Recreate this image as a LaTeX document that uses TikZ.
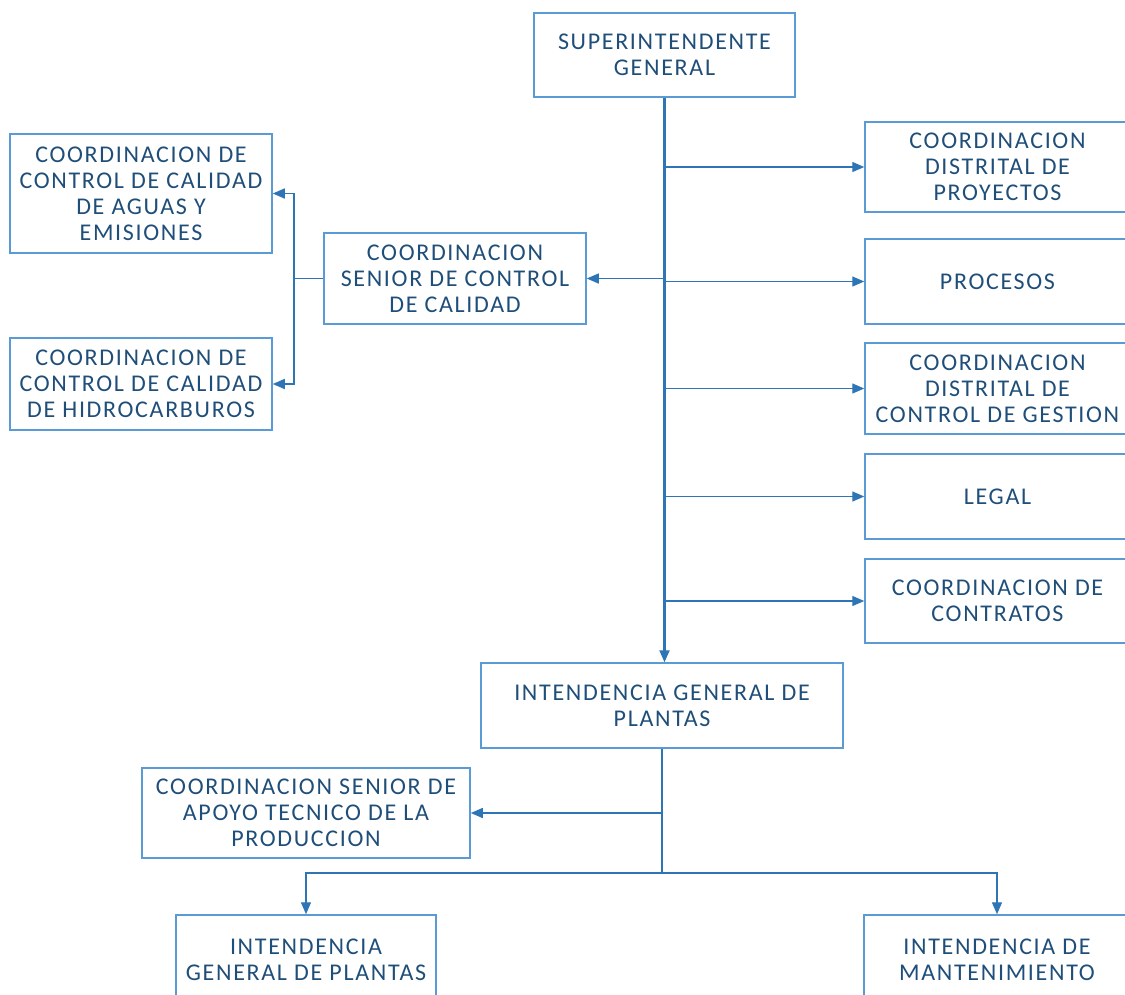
\documentclass[tikz,border=0pt]{standalone}
\usepackage{fontspec}
\setmainfont{Carlito}[LetterSpace=7]
\usetikzlibrary{arrows.meta}
\definecolor{boxc}{RGB}{91,155,213}
\definecolor{linec}{RGB}{46,117,182}
\definecolor{txtc}{RGB}{31,78,121}
\tikzset{
  box/.style={draw=boxc, line width=1.5pt, rectangle, align=center, text=txtc,
    font=\fontsize{24}{26}\selectfont, inner sep=0pt},
  conn/.style={draw=linec, line width=1.4pt},
  arr/.style={conn, -{Triangle[length=12pt,width=10pt]}}
}
\begin{document}
\begin{tikzpicture}[x=1pt,y=-1pt]
\useasboundingbox (0,0) rectangle (1125,994);
\node[box, minimum width=261, minimum height=84] (super) at (664.5,55) {SUPERINTENDENTE\\GENERAL};
\node[box, minimum width=262, minimum height=119] (aguas) at (141,193.5) {COORDINACION DE\\CONTROL DE CALIDAD\\DE AGUAS Y\\EMISIONES};
\node[box, minimum width=262, minimum height=92] (hidro) at (141,384) {COORDINACION DE\\CONTROL DE CALIDAD\\DE HIDROCARBUROS};
\node[box, minimum width=262, minimum height=91] (seniorcal) at (455,278.5) {COORDINACION\\SENIOR DE CONTROL\\DE CALIDAD};
\node[box, minimum width=265, minimum height=90] (proy) at (997.5,167) {COORDINACION\\DISTRITAL DE\\PROYECTOS};
\node[box, minimum width=265, minimum height=85] (proc) at (997.5,281.5) {PROCESOS};
\node[box, minimum width=265, minimum height=91] (gest) at (997.5,388.5) {COORDINACION\\DISTRITAL DE\\CONTROL DE GESTION};
\node[box, minimum width=265, minimum height=85] (legal) at (997.5,496.5) {LEGAL};
\node[box, minimum width=265, minimum height=84] (contr) at (997.5,601) {COORDINACION DE\\CONTRATOS};
\node[box, minimum width=362, minimum height=85] (ig) at (662,705.5) {INTENDENCIA GENERAL DE\\PLANTAS};
\node[box, minimum width=328, minimum height=90] (apoyo) at (306,813) {COORDINACION SENIOR DE\\APOYO TECNICO DE LA\\PRODUCCION};
\node[box, minimum width=260, minimum height=90] (igp) at (306,960) {INTENDENCIA\\GENERAL DE PLANTAS};
\node[box, minimum width=266, minimum height=90] (mant) at (997,960) {INTENDENCIA DE\\MANTENIMIENTO};
% trunk
\draw[arr, line width=2.2pt] (super.south) -- (super.south |- ig.north);
\foreach \n in {proy,proc,gest,legal,contr}
  \draw[arr] (super.south |- \n.west) -- (\n.west);
\draw[arr] (super.south |- seniorcal.east) -- (seniorcal.east);
\coordinate (lj) at (294,278.5);
\draw[conn] (seniorcal.west) -- (lj);
\draw[arr] (lj) |- (aguas.east);
\draw[arr] (lj) |- (hidro.east);
% lower
\coordinate (bj) at (662,873);
\draw[conn] (ig.south) -- (bj);
\draw[arr] (ig.south |- apoyo.east) -- (apoyo.east);
\draw[arr] (bj) -| (igp.north);
\draw[arr] (bj) -| (mant.north);
\end{tikzpicture}
\end{document}
